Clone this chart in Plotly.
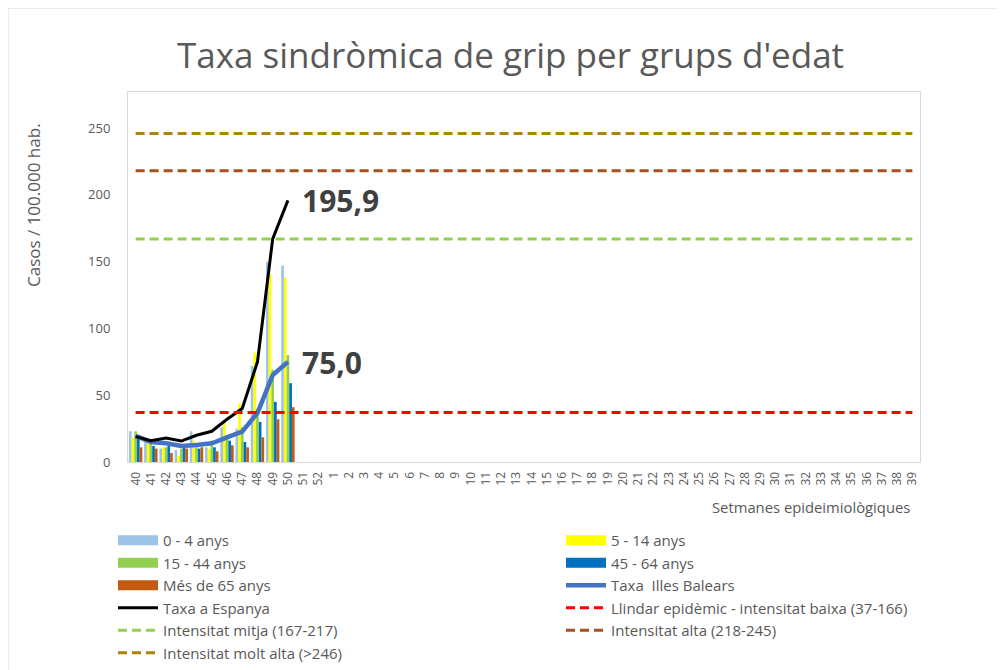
import plotly.graph_objects as go

weeks = [str(w) for w in range(40, 53)] + [str(w) for w in range(1, 40)]
data_weeks = [str(w) for w in range(40, 51)]

age_0_4 = [23, 16, 10, 9, 23, 11, 26, 25, 72, 150, 147]
age_5_14 = [18, 14, 11, 4.5, 16, 10, 30, 44, 82, 141, 138]
age_15_44 = [23, 14, 11, 10, 11, 16, 18, 26, 40, 69, 80]
age_45_64 = [18, 12, 12, 13, 10, 11, 16, 15, 30, 45, 59]
age_65 = [11, 10, 6.7, 10, 11, 8, 12.5, 11, 18.5, 32, 41]

taxa_balears = [19.5, 15, 14, 12, 12.7, 14, 18.5, 22.7, 36.7, 65, 75.0]
taxa_espanya = [19, 16, 18, 15.7, 20, 23, 32, 40, 75, 167, 195.9]

llindar_baixa = 37
intens_mitja = 167
intens_alta = 218
intens_molt_alta = 246

bar_series = [
    ("0 - 4 anys", age_0_4, "#9DC3E6", "legend"),
    ("5 - 14 anys", age_5_14, "#FFFF00", "legend2"),
    ("15 - 44 anys", age_15_44, "#92D050", "legend"),
    ("45 - 64 anys", age_45_64, "#0070C0", "legend2"),
    ("Més de 65 anys", age_65, "#C55A11", "legend"),
]

# page offset of the figure (browser body margin)
OFF = 8
PL, PT, PW, PH = 128, 92, 792, 370  # plot area in page pixels


def px(xp):
    return (xp - PL) / PW


def py(yp):
    return (PT + PH - yp) / PH


fig = go.Figure()
for name, vals, col, lg in bar_series:
    fig.add_trace(go.Bar(x=data_weeks, y=vals, name=name, showlegend=False,
                         marker=dict(color=col, line=dict(width=0))))
# legend entries drawn as wide colour swatches
for name, vals, col, lg in bar_series:
    fig.add_trace(go.Scatter(x=[None], y=[None], name=name, mode="lines", legend=lg,
                             line=dict(color=col, width=10)))

fig.add_trace(go.Scatter(x=data_weeks, y=taxa_balears, name="Taxa  Illes Balears", mode="lines",
                         legend="legend2", line=dict(color="#4472C4", width=4.5)))
fig.add_trace(go.Scatter(x=data_weeks, y=taxa_espanya, name="Taxa a Espanya", mode="lines",
                         legend="legend", line=dict(color="#000000", width=3)))

thresholds = [
    ("Llindar epidèmic - intensitat baixa (37-166)", llindar_baixa, "#FF0000", "legend2"),
    ("Intensitat mitja (167-217)", intens_mitja, "#92D050", "legend"),
    ("Intensitat alta (218-245)", intens_alta, "#A9511C", "legend2"),
    ("Intensitat molt alta (>246)", intens_molt_alta, "#A8860A", "legend"),
]
for name, v, col, lg in thresholds:
    fig.add_trace(go.Scatter(x=weeks, y=[v] * len(weeks), name=name, mode="lines", legend=lg,
                             line=dict(color=col, width=3, dash="9px,5px")))

txt = "#595959"
leg_common = dict(orientation="v", yanchor="top", font=dict(size=15, color=txt),
                  itemwidth=40, traceorder="normal", bgcolor="rgba(0,0,0,0)")
W, H = 1005, 670
fig.update_layout(
    width=W, height=H,
    margin=dict(l=PL - OFF, r=W - (PL - OFF) - PW, t=PT - OFF, b=H - (PT - OFF) - PH, autoexpand=False),
    paper_bgcolor="white", plot_bgcolor="white",
    font=dict(family="Open Sans", color=txt),
    barmode="group", bargap=0.12, bargroupgap=0,
    title=dict(text="Taxa sindròmica de grip per grups d'edat", x=0.5, xanchor="center",
               y=1 - (56 - OFF) / H, yanchor="middle", font=dict(size=35, color=txt)),
    xaxis=dict(type="category", categoryorder="array", categoryarray=weeks,
               range=[-0.5, len(weeks) - 0.5], tickangle=-90, tickfont=dict(size=12, color=txt),
               showline=True, linecolor="#D9D9D9", mirror=True, showgrid=False,
               ticks="outside", ticklen=4, tickcolor="rgba(0,0,0,0)"),
    yaxis=dict(range=[0, 277], tickvals=[0, 50, 100, 150, 200, 250], tickfont=dict(size=13, color=txt),
               showline=True, linecolor="#D9D9D9", mirror=True, showgrid=False, zeroline=False,
               ticks="outside", ticklen=14, tickcolor="rgba(0,0,0,0)"),
    legend=dict(x=px(113), xanchor="left", y=py(524), **leg_common),
    legend2=dict(x=px(561), xanchor="left", y=py(524), **leg_common),
    showlegend=True,
)

fig.add_annotation(text="Casos / 100.000 hab.", xref="paper", yref="paper",
                   x=px(33), y=py(205), textangle=-90, showarrow=False,
                   font=dict(size=17, color=txt), xanchor="center", yanchor="middle")
fig.add_annotation(text="Setmanes epideimiològiques", xref="paper", yref="paper",
                   x=px(912), y=py(507), showarrow=False,
                   font=dict(size=14.8, color=txt), xanchor="right", yanchor="middle")
idx_last = weeks.index(data_weeks[-1])
fig.add_annotation(text="<b>195,9</b>", x=idx_last, y=taxa_espanya[-1], xshift=12, showarrow=False,
                   xanchor="left", yanchor="middle", font=dict(size=30, color="#404040"))
fig.add_annotation(text="<b>75,0</b>", x=idx_last, y=taxa_balears[-1], xshift=12, yshift=-1, showarrow=False,
                   xanchor="left", yanchor="middle", font=dict(size=30, color="#404040"))

fig.add_shape(type="rect", xref="paper", yref="paper",
              x0=px(OFF), x1=px(1030), y0=py(700), y1=py(OFF),
              line=dict(color="#D9D9D9", width=1), fillcolor="rgba(0,0,0,0)", layer="below")

fig.write_html("out.html")
